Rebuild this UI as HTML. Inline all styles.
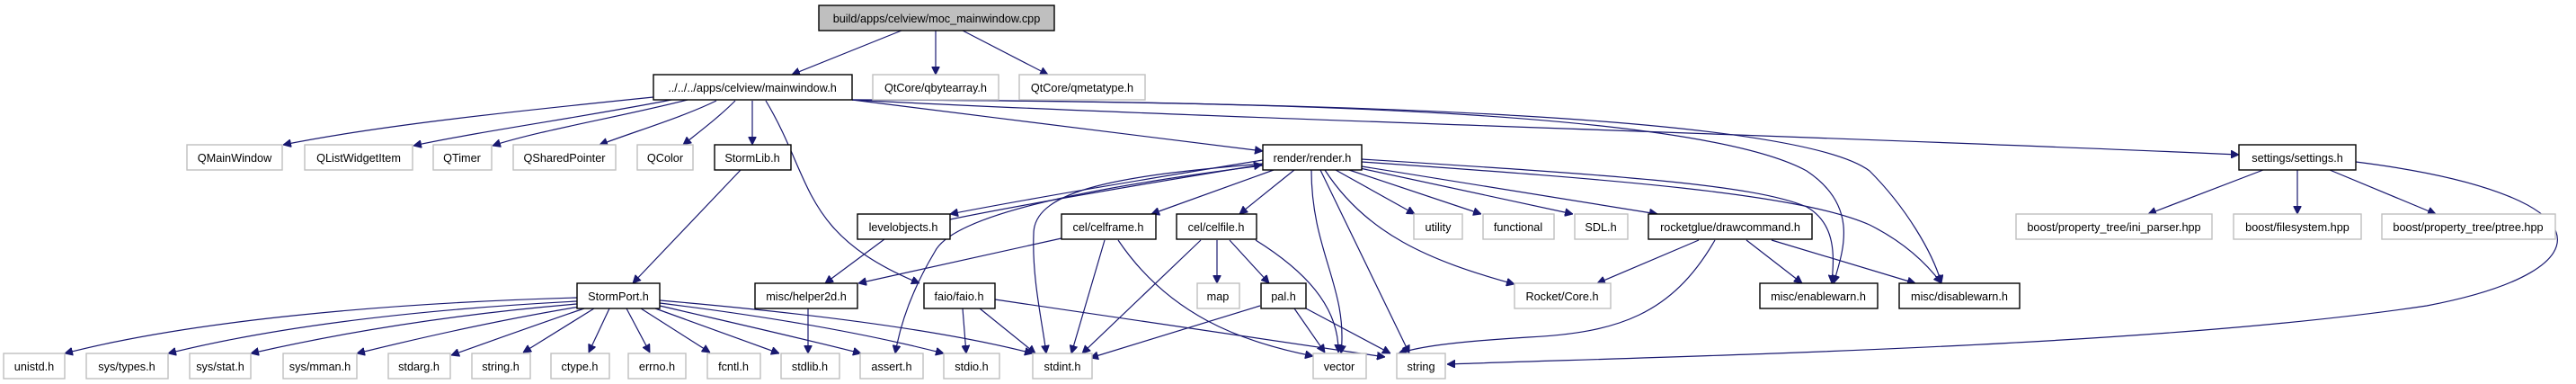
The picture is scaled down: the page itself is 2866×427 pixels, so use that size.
<!DOCTYPE html>
<html><head><meta charset="utf-8"><style>
html,body{margin:0;padding:0;background:#fff;}
svg{display:block;}
text{font-family:"Liberation Sans",sans-serif;font-size:12.7px;fill:#000;text-anchor:middle;}
.b{fill:#fff;stroke:#000;stroke-width:1.4;}
.g{fill:#fff;stroke:#bfbfbf;stroke-width:1.4;}
.e{fill:none;stroke:#191970;stroke-width:1.2;}
</style></head><body>
<svg width="2866" height="427" viewBox="0 0 2866 427" xmlns="http://www.w3.org/2000/svg">
<defs><marker id="a" viewBox="0 0 10 10" refX="10" refY="5" markerWidth="9" markerHeight="9" markerUnits="userSpaceOnUse" orient="auto"><path d="M0,0 L10,5 L0,10 z" fill="#191970" stroke="#191970"/></marker></defs>
<g class="e" marker-end="url(#a)">
<path d="M1003,34 L881,83"/>
<path d="M1041,34 L1041,83"/>
<path d="M1071,34 L1166,83"/>
<path d="M727,108 C560,125 420,140 315,161"/>
<path d="M747,111 C650,130 540,145 460,162"/>
<path d="M765,111 C690,130 600,145 548,162"/>
<path d="M797,112 C760,130 710,145 667,161"/>
<path d="M818,112 C800,130 780,145 760,161"/>
<path d="M837,112 L837,161"/>
<path d="M852,112 C905,200 890,260 1023,315"/>
<path d="M948,111 C1100,130 1260,150 1405,168"/>
<path d="M948,111 C1300,130 2000,150 2491,172"/>
<path d="M948,111 C1500,112 1900,130 2010,190 C2070,230 2050,280 2040,315"/>
<path d="M948,111 C1500,113 2000,130 2080,190 C2120,230 2150,280 2160,315"/>
<path d="M1405,178 C1300,195 1150,220 1057,238"/>
<path d="M1057,244 C1150,225 1300,200 1404,183"/>
<path d="M1405,182 C1250,195 1150,210 1150,260 C1148,310 1160,360 1164,393"/>
<path d="M1405,184 C1200,210 1060,240 1040,280 C1010,330 1000,370 996,393"/>
<path d="M1417,189 L1281,238"/>
<path d="M1440,189 L1379,238"/>
<path d="M1459,189 C1459,280 1500,320 1492,393"/>
<path d="M1469,189 L1568,393"/>
<path d="M1474,189 C1520,260 1590,290 1685,316"/>
<path d="M1486,189 L1574,238"/>
<path d="M1501,189 L1648,238"/>
<path d="M1513,187 L1750,238"/>
<path d="M1515,185 L1844,238"/>
<path d="M1515,177 C1800,195 1950,205 2010,230 C2045,250 2040,290 2038,315"/>
<path d="M1515,180 C1800,200 2000,215 2080,250 C2120,270 2145,295 2160,315"/>
<path d="M984,266 L918,315"/>
<path d="M1181,265 L955,315"/>
<path d="M1229,267 L1192,393"/>
<path d="M1244,267 C1300,350 1380,380 1461,396"/>
<path d="M1336,267 L1204,393"/>
<path d="M1354,267 L1354,315"/>
<path d="M1368,267 L1412,315"/>
<path d="M1397,267 C1450,300 1490,340 1489,392"/>
<path d="M1071,343 L1075,393"/>
<path d="M1090,343 L1152,393"/>
<path d="M1107,333 L1541,397"/>
<path d="M1402,340 L1213,398"/>
<path d="M1440,343 L1474,392"/>
<path d="M1453,343 L1547,393"/>
<path d="M1890,267 L1777,315"/>
<path d="M1908,267 C1860,350 1800,370 1700,375 C1620,380 1580,385 1556,393"/>
<path d="M1943,267 L2005,315"/>
<path d="M1971,267 L2131,315"/>
<path d="M2518,189 L2390,238"/>
<path d="M2556,189 L2556,238"/>
<path d="M2592,189 L2710,238"/>
<path d="M2621,180 C2900,215 2910,300 2700,340 C2400,385 1900,395 1610,405"/>
<path d="M824,189 L704,315"/>
<path d="M899,343 L899,393"/>
<path d="M642,331 C400,338 200,360 72,393"/>
<path d="M642,335 C450,345 300,365 187,393"/>
<path d="M642,338 C500,350 380,370 279,393"/>
<path d="M645,341 C560,355 470,375 397,393"/>
<path d="M650,343 C600,360 550,378 502,395"/>
<path d="M661,343 L582,392"/>
<path d="M678,343 L655,392"/>
<path d="M697,343 L723,392"/>
<path d="M713,343 L790,392"/>
<path d="M729,343 L867,393"/>
<path d="M734,340 C820,360 900,378 958,393"/>
<path d="M734,337 C880,355 980,375 1050,393"/>
<path d="M734,334 C920,350 1060,370 1149,393"/>
</g>
<rect x="911" y="6" width="262" height="28" fill="#bfbfbf" stroke="#000" stroke-width="1.4"/><text x="1042" y="25">build/apps/celview/moc_mainwindow.cpp</text>
<rect class="b" x="727" y="83" width="221" height="28"/><text x="837" y="102">../../../apps/celview/mainwindow.h</text>
<rect class="g" x="971" y="83" width="140" height="28"/><text x="1041" y="102">QtCore/qbytearray.h</text>
<rect class="g" x="1134" y="83" width="140" height="28"/><text x="1204" y="102">QtCore/qmetatype.h</text>
<rect class="g" x="208" y="161" width="106" height="28"/><text x="261" y="180">QMainWindow</text>
<rect class="g" x="339" y="161" width="120" height="28"/><text x="399" y="180">QListWidgetItem</text>
<rect class="g" x="482" y="161" width="65" height="28"/><text x="514" y="180">QTimer</text>
<rect class="g" x="571" y="161" width="114" height="28"/><text x="628" y="180">QSharedPointer</text>
<rect class="g" x="709" y="161" width="62" height="28"/><text x="740" y="180">QColor</text>
<rect class="b" x="795" y="161" width="85" height="28"/><text x="837" y="180">StormLib.h</text>
<rect class="b" x="1405" y="161" width="110" height="28"/><text x="1460" y="180">render/render.h</text>
<rect class="b" x="2491" y="161" width="130" height="28"/><text x="2556" y="180">settings/settings.h</text>
<rect class="b" x="954" y="238" width="103" height="28"/><text x="1005" y="257">levelobjects.h</text>
<rect class="b" x="1181" y="238" width="105" height="28"/><text x="1233" y="257">cel/celframe.h</text>
<rect class="b" x="1309" y="238" width="89" height="28"/><text x="1353" y="257">cel/celfile.h</text>
<rect class="g" x="1573" y="238" width="54" height="28"/><text x="1600" y="257">utility</text>
<rect class="g" x="1650" y="238" width="79" height="28"/><text x="1689" y="257">functional</text>
<rect class="g" x="1752" y="238" width="59" height="28"/><text x="1781" y="257">SDL.h</text>
<rect class="b" x="1834" y="238" width="182" height="28"/><text x="1925" y="257">rocketglue/drawcommand.h</text>
<rect class="g" x="2243" y="238" width="218" height="28"/><text x="2352" y="257">boost/property_tree/ini_parser.hpp</text>
<rect class="g" x="2485" y="238" width="142" height="28"/><text x="2556" y="257">boost/filesystem.hpp</text>
<rect class="g" x="2650" y="238" width="193" height="28"/><text x="2746" y="257">boost/property_tree/ptree.hpp</text>
<rect class="b" x="642" y="315" width="92" height="28"/><text x="688" y="334">StormPort.h</text>
<rect class="b" x="840" y="315" width="114" height="28"/><text x="897" y="334">misc/helper2d.h</text>
<rect class="b" x="1028" y="315" width="79" height="28"/><text x="1067" y="334">faio/faio.h</text>
<rect class="g" x="1332" y="315" width="47" height="28"/><text x="1355" y="334">map</text>
<rect class="b" x="1403" y="315" width="50" height="28"/><text x="1428" y="334">pal.h</text>
<rect class="g" x="1685" y="315" width="107" height="28"/><text x="1738" y="334">Rocket/Core.h</text>
<rect class="b" x="1958" y="315" width="131" height="28"/><text x="2023" y="334">misc/enablewarn.h</text>
<rect class="b" x="2113" y="315" width="134" height="28"/><text x="2180" y="334">misc/disablewarn.h</text>
<rect class="g" x="4" y="393" width="68" height="28"/><text x="38" y="412">unistd.h</text>
<rect class="g" x="96" y="393" width="91" height="28"/><text x="141" y="412">sys/types.h</text>
<rect class="g" x="211" y="393" width="68" height="28"/><text x="245" y="412">sys/stat.h</text>
<rect class="g" x="315" y="393" width="82" height="28"/><text x="356" y="412">sys/mman.h</text>
<rect class="g" x="432" y="393" width="69" height="28"/><text x="466" y="412">stdarg.h</text>
<rect class="g" x="525" y="393" width="65" height="28"/><text x="557" y="412">string.h</text>
<rect class="g" x="613" y="393" width="65" height="28"/><text x="645" y="412">ctype.h</text>
<rect class="g" x="699" y="393" width="64" height="28"/><text x="731" y="412">errno.h</text>
<rect class="g" x="787" y="393" width="59" height="28"/><text x="816" y="412">fcntl.h</text>
<rect class="g" x="869" y="393" width="65" height="28"/><text x="901" y="412">stdlib.h</text>
<rect class="g" x="957" y="393" width="70" height="28"/><text x="992" y="412">assert.h</text>
<rect class="g" x="1050" y="393" width="62" height="28"/><text x="1081" y="412">stdio.h</text>
<rect class="g" x="1149" y="393" width="66" height="28"/><text x="1182" y="412">stdint.h</text>
<rect class="g" x="1461" y="393" width="59" height="28"/><text x="1490" y="412">vector</text>
<rect class="g" x="1554" y="393" width="54" height="28"/><text x="1581" y="412">string</text>
</svg>
</body></html>
